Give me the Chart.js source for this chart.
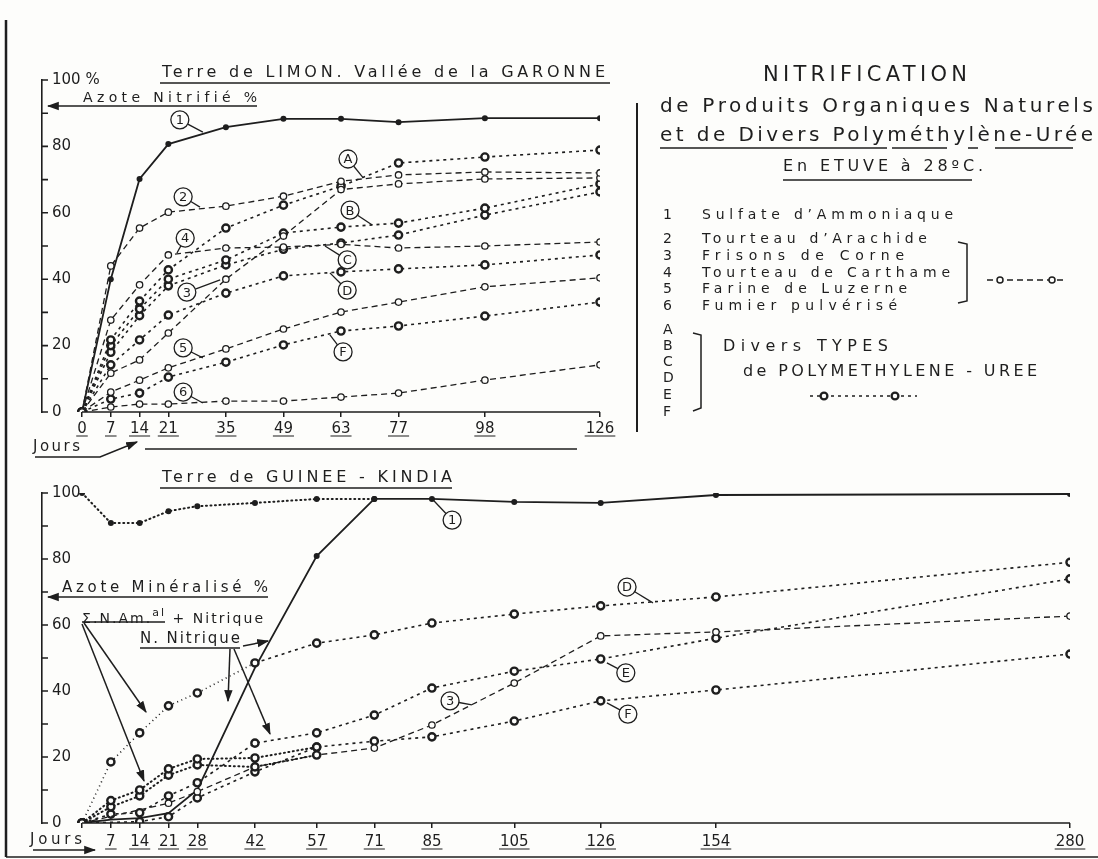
<!DOCTYPE html>
<html>
<head>
<meta charset="utf-8">
<script src="https://cdn.jsdelivr.net/npm/chart.js@4.4.1/dist/chart.umd.min.js"></script>
<style>
  html, body { margin: 0; padding: 0; background: #fff; }
  #page { position: relative; width: 1098px; height: 859px; overflow: hidden; background: #fdfdfb;
          font-family: 'DejaVu Sans', sans-serif; color: #1e1e1e; }
  canvas { position: absolute; }
  #topChart { left: 0; top: 0; }
  #botChart { left: 0; top: 440px; }
  .t { position: absolute; white-space: nowrap; line-height: 1; }
  svg { position: absolute; left: 0; top: 0; }
</style>
</head>
<body>
<div id="page">
  <canvas id="topChart" width="640" height="460"></canvas>
  <canvas id="botChart" width="1098" height="419"></canvas>
  <svg width="1098" height="859" viewBox="0 0 1098 859">
    <defs>
      <marker id="ah" viewBox="0 0 10 10" refX="9" refY="5" markerWidth="8" markerHeight="8" orient="auto-start-reverse">
        <path d="M0,1.5 L10,5 L0,8.5 z" fill="#1e1e1e"/>
      </marker>
    </defs>
    <g stroke="#1e1e1e" stroke-width="1.5" fill="none">
      <!-- frame -->
      <line x1="6" y1="20" x2="6" y2="857" stroke-width="2.5"/>
      <line x1="6" y1="857" x2="1098" y2="857"/>
      <line x1="637" y1="103" x2="637" y2="432" stroke-width="2"/>
      <!-- top chart -->
      <line x1="160" y1="83" x2="610" y2="83"/>
      <line x1="257" y1="106" x2="48" y2="106" marker-end="url(#ah)"/>
      <polyline points="35,457 100,457 137,442" marker-end="url(#ah)"/>
      <line x1="145" y1="449" x2="577" y2="449"/>
      <!-- right block -->
      <line x1="660" y1="148" x2="887" y2="148"/>
      <line x1="892" y1="148" x2="947" y2="148"/>
      <line x1="968" y1="148" x2="978" y2="148"/>
      <line x1="995" y1="148" x2="1073" y2="148"/>
      <line x1="783" y1="180" x2="972" y2="180"/>
      <path d="M958,242 L967,244 L967,301 L958,303"/>
      <line x1="987" y1="280" x2="1067" y2="280" stroke-dasharray="6 4"/>
      <circle cx="1000" cy="280" r="3" fill="#fdfdfb"/>
      <circle cx="1052" cy="280" r="3" fill="#fdfdfb"/>
      <path d="M693,333 L701,335 L701,408 L693,411"/>
      <line x1="810" y1="396" x2="917" y2="396" stroke-dasharray="3 4"/>
      <circle cx="824" cy="396" r="3.4" fill="#fdfdfb" stroke-width="2.3"/>
      <circle cx="895" cy="396" r="3.4" fill="#fdfdfb" stroke-width="2.3"/>
      <!-- bottom chart -->
      <line x1="160" y1="488" x2="452" y2="488"/>
      <line x1="268" y1="597" x2="48" y2="597" marker-end="url(#ah)"/>
      <line x1="82" y1="622" x2="165" y2="622"/>
      <line x1="84" y1="623" x2="146" y2="712" marker-end="url(#ah)"/>
      <line x1="82" y1="624" x2="144" y2="781" marker-end="url(#ah)"/>
      <line x1="140" y1="648" x2="240" y2="648"/>
      <line x1="243" y1="646" x2="268" y2="641" marker-end="url(#ah)"/>
      <line x1="230" y1="649" x2="228" y2="701" marker-end="url(#ah)"/>
      <line x1="234" y1="649" x2="270" y2="734" marker-end="url(#ah)"/>
      <line x1="33" y1="850" x2="95" y2="850" marker-end="url(#ah)"/>
    </g>
  </svg>
</div>
<script>
  // ---- data: top chart (Terre de LIMON), days and % nitrified ----
  const topDays = [0, 7, 14, 21, 35, 49, 63, 77, 98, 126];
  const top1 = [0, 40, 70.2, 80.7, 85.8, 88.3, 88.3, 87.3, 88.5, 88.5];
  const top2 = [0, 44, 55.4, 60.2, 62, 65, 69.5, 71.4, 72.3, 72];
  const top3 = [0, 11.7, 15.7, 23.8, 40, 53, 67, 68.7, 70.2, 70.5];
  const top4 = [0, 27.7, 38.3, 47.3, 49.4, 49.7, 50.5, 49.4, 50, 51.2];
  const top5 = [0, 6, 9.6, 13.3, 19, 25, 30.1, 33.1, 37.7, 40.4];
  const top6 = [0, 1.5, 2.4, 2.4, 3.3, 3.3, 4.5, 5.7, 9.6, 14.2];
  const topA = [0, 21.7, 33.4, 42.8, 55.4, 62.3, 68, 75, 76.8, 78.9];
  const topB = [0, 20, 31, 40, 45.8, 53.9, 55.7, 56.9, 61.4, 68.7];
  const topC = [0, 18, 29, 38, 44.3, 49, 50.9, 53.3, 59.3, 66.3];
  const topD = [0, 14.2, 21.7, 29.2, 35.8, 41, 42.2, 43.1, 44.3, 47.3];
  const topF = [0, 3.9, 5.7, 10.5, 15, 20.2, 24.4, 25.9, 28.9, 33.1];

  // ---- data: bottom chart (Terre de GUINEE - KINDIA) ----
  const botDays = [0, 7, 14, 21, 28, 42, 57, 71, 85, 105, 126, 154, 280];
  const bot1Total = [100, 90.9, 90.9, 94.5, 96, 97, 98.2, 98.2, null, null, null, null, null];
  const bot1Nitric = [0, 1, 1.5, 3, 10, 47, 80.9, 98.2, 98.2, 97.3, 97, 99.4, 99.7];
  const botD = [0, 18.5, 27.3, 35.5, 39.4, 48.5, 54.5, 57, 60.6, 63.3, 65.8, 68.5, 79];
  const botE = [0, 2.7, 3.1, 8.2, 12.2, 24.2, 27.3, 32.7, 40.9, 46, 49.7, 56, 74];
  const botF = [0, null, 0.4, 1.9, 7.6, 15.5, 23, 24.8, 26.1, 30.9, 37, 40.3, 51.2];
  const bot3 = [0, null, null, 6, 9.5, 17, 20.6, 22.7, 29.7, 42.4, 56.7, 57.9, 62.7];
  const botETotal = [0, 6.8, 10, 16.4, 19.4, 19.7, 23, null, null, null, null, null, null];
  const botFTotal = [0, 4.9, 8.2, 14.5, 17.6, 17, 20.6, null, null, null, null, null, null];

  const yTicks = [0, 10, 20, 30, 40, 50, 60, 70, 80, 90, 100];

  const INK = '#1e1e1e';
  Chart.defaults.font.family = "'DejaVu Sans', sans-serif";
  Chart.defaults.color = INK;

  // x axis of the bottom chart is compressed after 154 days
  class BrokenScale extends Chart.LinearScale {
    getPixelForValue(v) {
      if (v === null || v === undefined || isNaN(v)) return NaN;
      const b = this.options.breakAt, f = this.options.breakFrac;
      const d = v <= b ? (v - this.min) / (b - this.min) * f
                       : f + (v - b) / (this.max - b) * (1 - f);
      return this.getPixelForDecimal(d);
    }
    getValueForPixel(p) {
      const d = this.getDecimalForPixel(p);
      const b = this.options.breakAt, f = this.options.breakFrac;
      if (d <= f) return this.min + d / f * (b - this.min);
      return b + (d - f) / (1 - f) * (this.max - b);
    }
  }
  BrokenScale.id = 'broken';
  BrokenScale.defaults = Chart.LinearScale.defaults;
  Chart.register(BrokenScale);

  const pts = (days, vals) => days.map((d, i) => ({ x: d, y: vals[i] }));

  const solid = (days, vals, extra) => Object.assign({
    data: pts(days, vals), borderColor: INK, borderWidth: 1.8,
    pointRadius: 3, pointBackgroundColor: INK, pointBorderWidth: 0
  }, extra);
  const natural = (days, vals) => ({
    data: pts(days, vals), borderColor: INK, borderWidth: 1.3, borderDash: [6, 4],
    pointRadius: 3.2, pointBackgroundColor: '#fdfdfb', pointBorderColor: INK, pointBorderWidth: 1.3
  });
  const pmu = (days, vals, extra) => Object.assign({
    data: pts(days, vals), borderColor: INK, borderWidth: 1.6, borderDash: [3, 4],
    pointRadius: 3.6, pointBackgroundColor: '#fdfdfb', pointBorderColor: INK, pointBorderWidth: 2.4
  }, extra);
  const dotted = (days, vals, extra) => Object.assign({
    data: pts(days, vals), borderColor: INK, borderWidth: 2, borderDash: [1, 3.5], borderCapStyle: 'round',
    pointRadius: 3.6, pointBackgroundColor: '#fdfdfb', pointBorderColor: INK, pointBorderWidth: 2.4
  }, extra);

  function yAxis(top) {
    return {
      min: 0, max: 100,
      afterBuildTicks: s => { s.ticks = yTicks.map(v => ({ value: v })); },
      afterFit: s => { s.width = 0; },
      ticks: {
        mirror: true, padding: 10, font: { size: 15 },
        callback: v => v % 20 ? '' : (v === 100 && top ? '100 %' : String(v))
      },
      grid: { drawOnChartArea: false, drawTicks: false },
      border: { display: true, width: 1.6, color: INK }
    };
  }
  function xAxis(days, showZero, extra) {
    return Object.assign({
      type: 'linear', min: -9.73,
      afterBuildTicks: s => { s.ticks = days.map(v => ({ value: v })); },
      afterFit: s => { s.height = 30; },
      ticks: { autoSkip: false, maxRotation: 0, font: { size: 15 }, padding: 3,
               callback: v => (v === 0 && !showZero) ? '' : String(v) },
      grid: { drawOnChartArea: false, drawTicks: true, tickLength: 5, color: INK, lineWidth: 1.5 },
      border: { display: false }
    }, extra);
  }

  // axis line from day 0, short y ticks and underlined day labels
  function axisDeco(ul) {
    return {
      id: 'axisDeco',
      afterDraw(chart) {
        const { ctx, chartArea, scales: { x, y } } = chart;
        ctx.save();
        ctx.strokeStyle = INK; ctx.lineWidth = 1.6;
        ctx.beginPath();
        ctx.moveTo(x.getPixelForValue(0), chartArea.bottom);
        ctx.lineTo(x.getPixelForValue(x.max), chartArea.bottom);
        y.ticks.forEach(t => {
          const py = y.getPixelForValue(t.value);
          ctx.moveTo(chartArea.left, py); ctx.lineTo(chartArea.left + 6, py);
        });
        ctx.stroke();
        ctx.font = "15px 'DejaVu Sans'";
        ctx.lineWidth = 1.2;
        ctx.beginPath();
        x.ticks.forEach(t => {
          if (!t.label) return;
          const w = ctx.measureText(String(t.label)).width;
          const px = x.getPixelForValue(t.value);
          ctx.moveTo(px - w / 2 - 1, chartArea.bottom + ul);
          ctx.lineTo(px + w / 2 + 1, chartArea.bottom + ul);
        });
        ctx.stroke();
        ctx.restore();
      }
    };
  }

  // circled series labels with leader lines, placed in data coordinates
  function circled(items) {
    return {
      id: 'circled',
      afterDatasetsDraw(chart) {
        const { ctx, scales: { x, y } } = chart;
        ctx.save();
        ctx.strokeStyle = INK; ctx.lineWidth = 1.3;
        ctx.font = "13px 'DejaVu Sans'";
        ctx.textAlign = 'center'; ctx.textBaseline = 'middle';
        items.forEach(it => {
          const cx = x.getPixelForValue(it.at[0]), cy = y.getPixelForValue(it.at[1]);
          const ex = x.getPixelForValue(it.to[0]), ey = y.getPixelForValue(it.to[1]);
          const a = Math.atan2(ey - cy, ex - cx);
          ctx.beginPath();
          ctx.moveTo(cx + 9 * Math.cos(a), cy + 9 * Math.sin(a));
          ctx.lineTo(ex, ey);
          ctx.stroke();
          ctx.beginPath();
          ctx.arc(cx, cy, 9, 0, Math.PI * 2);
          ctx.fillStyle = '#fdfdfb'; ctx.fill(); ctx.stroke();
          ctx.fillStyle = INK;
          ctx.fillText(it.t, cx, cy + 1);
        });
        ctx.restore();
      }
    };
  }

  const topLabels = [
    { t: '1', at: [23.8, 88], to: [29.4, 84.3] },
    { t: '2', at: [24.6, 64.8], to: [28.7, 61.7] },
    { t: '4', at: [25.1, 52.4], to: [23.1, 47.9] },
    { t: '3', at: [25.5, 36.1], to: [33.6, 39.8] },
    { t: '5', at: [24.6, 19.3], to: [29.4, 16.3] },
    { t: '6', at: [24.6, 6], to: [29.4, 2.7] },
    { t: 'A', at: [64.7, 76.2], to: [68.4, 70.5] },
    { t: 'B', at: [65.2, 60.8], to: [70.6, 56.3] },
    { t: 'C', at: [64.5, 45.8], to: [59.1, 50] },
    { t: 'D', at: [64.5, 36.7], to: [60.3, 41.9] },
    { t: 'F', at: [63.5, 18.1], to: [60.3, 23.2] }
  ];
  const botLabels = [
    { t: '1', at: [89.9, 91.8], to: [85.3, 97.9] },
    { t: 'D', at: [132.4, 71.5], to: [138.7, 66.7] },
    { t: 'E', at: [132.1, 45.5], to: [127.5, 48.5] },
    { t: 'F', at: [132.6, 33], to: [127.5, 36.4] },
    { t: '3', at: [89.4, 37], to: [94.7, 35.8] }
  ];

  const common = {
    responsive: false, animation: false, spanGaps: true,
    plugins: { legend: { display: false }, tooltip: { enabled: false } }
  };

  new Chart(document.getElementById('topChart'), {
    type: 'line',
    data: {
      datasets: [
        natural(topDays, top2), natural(topDays, top3), natural(topDays, top4),
        natural(topDays, top5), natural(topDays, top6),
        pmu(topDays, topA), pmu(topDays, topB), pmu(topDays, topC),
        pmu(topDays, topD), pmu(topDays, topF),
        solid(topDays, top1)
      ]
    },
    options: Object.assign({}, common, {
      layout: { padding: { left: 42, right: 40, top: 80, bottom: 18 } },
      scales: { x: xAxis(topDays, true, { max: 126 }), y: yAxis(true) }
    }),
    plugins: [axisDeco(24), circled(topLabels)]
  });

  const botX = xAxis(botDays, false, { type: 'broken', max: 280, breakAt: 154, breakFrac: 0.6556 });
  botX.ticks.padding = 5;

  new Chart(document.getElementById('botChart'), {
    type: 'line',
    data: {
      datasets: [
        dotted(botDays, bot1Total, { pointRadius: 3, pointBackgroundColor: INK, pointBorderWidth: 0 }),
        dotted(botDays, botETotal),
        dotted(botDays, botFTotal),
        natural(botDays, bot3),
        pmu(botDays, botE), pmu(botDays, botF),
        pmu(botDays, botD, { segment: { borderDash: c => botDays[c.p1DataIndex] <= 42 ? [1, 3.5] : [3, 4] } }),
        solid(botDays, bot1Nitric, { pointRadius: c => botDays[c.dataIndex] >= 57 ? 3 : 0 })
      ]
    },
    options: Object.assign({}, common, {
      layout: { padding: { left: 42, right: 28, top: 53, bottom: 6 } },
      scales: { x: botX, y: yAxis(false) }
    }),
    plugins: [axisDeco(26), circled(botLabels)]
  });

  // ---- real text, stretched to the widths of the original lettering ----
  const page = document.getElementById('page');
  function txt(html, x, base, size, w) {
    const d = document.createElement('div');
    d.className = 't';
    d.innerHTML = html;
    d.style.left = x + 'px';
    d.style.top = (base - size * 0.85) + 'px';
    d.style.fontSize = size + 'px';
    page.appendChild(d);
    if (w) {
      const nat = d.getBoundingClientRect().width;
      const n = d.textContent.length;
      d.style.letterSpacing = ((w - nat) / Math.max(n - 1, 1)) + 'px';
    }
    return d;
  }

  txt('Terre de LIMON. Vallée de la GARONNE', 162, 78, 16, 443);
  txt('Azote Nitrifié %', 83, 102, 14, 174);
  txt('Jours', 33, 452, 15, 47);

  txt('NITRIFICATION', 763, 82, 21, 204);
  txt('de Produits Organiques Naturels', 660, 112, 20, 433);
  txt('et de Divers Polyméthylène-Urée', 660, 141, 20, 433);
  txt('En ETUVE à 28ºC.', 783, 172, 16, 200);
  const items = [['1', 'Sulfate d\u2019Ammoniaque', 219, 251],
                 ['2', 'Tourteau d\u2019Arachide', 243, 225],
                 ['3', 'Frisons de Corne', 260, 202],
                 ['4', 'Tourteau de Carthame', 277, 248],
                 ['5', 'Farine de Luzerne', 293, 205],
                 ['6', 'Fumier pulvérisé', 310, 195]];
  items.forEach(r => { txt(r[0], 663, r[2], 14); txt(r[1], 702, r[2], 14, r[3]); });
  ['A', 'B', 'C', 'D', 'E', 'F'].forEach((l, i) => txt(l, 663, [334, 350, 366, 382, 399, 416][i], 14));
  txt('Divers TYPES', 723, 352, 16, 165);
  txt('de POLYMETHYLENE - UREE', 743, 377, 16, 294);

  txt('Terre de GUINEE - KINDIA', 162, 483, 16, 290);
  txt('Azote Minéralisé %', 62, 593, 15, 206);
  txt('Σ.N.Am.<span style="font-size:11px;vertical-align:7px">al</span> + Nitrique', 82, 619, 14, 181);
  txt('N. Nitrique', 140, 644, 15, 100);
  txt('Jours', 30, 845, 15, 52);
</script>
</body>
</html>
